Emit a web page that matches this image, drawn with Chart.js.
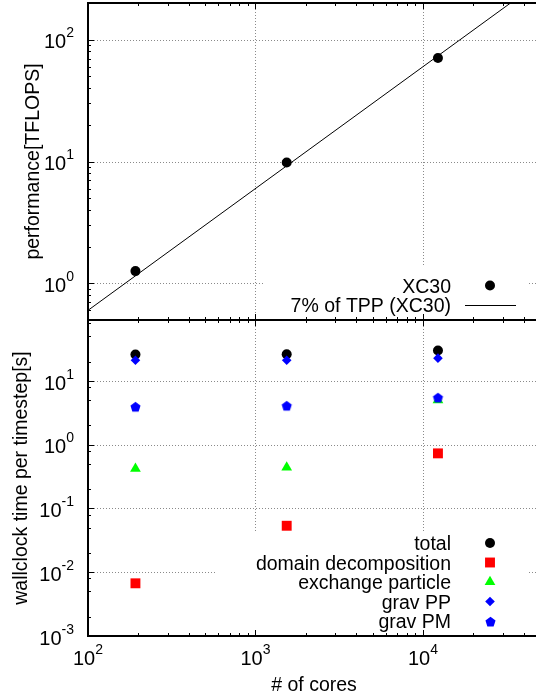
<!DOCTYPE html>
<html><head><meta charset="utf-8">
<script src="https://cdn.jsdelivr.net/npm/chart.js@4.4.1/dist/chart.umd.min.js"></script>
<style>
html,body{margin:0;padding:0;background:#fff;overflow:hidden;width:536px;height:697px;}
#wrap{position:relative;width:536px;height:697px;overflow:hidden;background:#fff;}
canvas{position:absolute;left:0;}
</style></head><body>
<div id="wrap">
<canvas id="cTop" width="536" height="324" style="top:0px;width:536px;height:324px"></canvas>
<canvas id="cBot" width="536" height="381" style="top:316px;width:536px;height:381px"></canvas>
</div>
<script>
// ---------- data ----------
const cores = [192, 1536, 12288];
const perfXC30 = [1.26, 9.8, 70.7];
const tppCores = [100, 50000];
const tppTflops = [0.6, 300];
const timeTotal = [25.9, 26.2, 29.9];
const timeDomain = [0.0067, 0.0535, 0.73];
const timeExchange = [0.42, 0.44, 5.0];
const timeGravPP = [21.0, 21.0, 22.7];
const timeGravPM = [3.95, 4.1, 5.5];
const xTickExps = [2, 3, 4];
const perfTickExps = [0, 1, 2];
const timeTickExps = [-3, -2, -1, 0, 1];
const xMinorMult = [2, 3, 4, 5, 6, 7, 8, 9];
const perfMinorMult = [2, 3, 4, 5, 6, 7, 8, 9];
const timeMinorMult = [2, 5, 8];
const xTitle = '# of cores';
const perfTitle = 'performance[TFLOPS]';
const timeTitle = 'wallclock time per timestep[s]';

// ---------- helpers ----------
const FONT = '"Liberation Sans", Arial, Helvetica, sans-serif';
const f = px => px + 'px ' + FONT;
const TXT = 19.5;

function makePentagon(r, color){
  const s = Math.ceil(2*r + 2);
  const c = document.createElement('canvas'); c.width = s; c.height = s;
  const g = c.getContext('2d'); g.fillStyle = color; g.beginPath();
  for (let i = 0; i < 5; i++){
    const a = -Math.PI/2 + i*2*Math.PI/5;
    const px = s/2 + r*Math.cos(a), py = s/2 + 0.6 + r*Math.sin(a);
    i ? g.lineTo(px, py) : g.moveTo(px, py);
  }
  g.closePath(); g.fill();
  return c;
}
const pentagon = makePentagon(5.3, '#0000ff');

function drawMarker(ctx, style, r, color, x, y){
  ctx.fillStyle = color;
  if (style instanceof HTMLCanvasElement){ ctx.drawImage(style, Math.round(x - style.width/2), Math.round(y - style.height/2)); return; }
  ctx.beginPath();
  if (style === 'circle') ctx.arc(x, y, r, 0, 2*Math.PI);
  else if (style === 'rect'){ const h = r*Math.SQRT1_2; ctx.rect(x-h, y-h, 2*h, 2*h); }
  else if (style === 'triangle'){ ctx.moveTo(x, y-r); ctx.lineTo(x+r*0.866, y+r*0.5); ctx.lineTo(x-r*0.866, y+r*0.5); ctx.closePath(); }
  else if (style === 'rectRot'){ ctx.moveTo(x-r, y); ctx.lineTo(x, y-r); ctx.lineTo(x+r, y); ctx.lineTo(x, y+r); ctx.closePath(); }
  ctx.fill();
}

function drawPow(ctx, exp, x, y, align){
  const base = '10', sup = String(exp);
  ctx.font = f(20); const wb = ctx.measureText(base).width;
  ctx.font = f(14); const ws = ctx.measureText(sup).width;
  const total = wb + ws;
  const x0 = align === 'right' ? x - total : x - total/2;
  ctx.textAlign = 'left'; ctx.textBaseline = 'alphabetic'; ctx.fillStyle = '#000';
  ctx.font = f(20); ctx.fillText(base, x0, y);
  ctx.font = f(14); ctx.fillText(sup, x0 + wb, y - 11);
}

function logValues(min, max, mults){
  const out = [];
  for (let d = Math.floor(Math.log10(min)) - 1; d <= Math.ceil(Math.log10(max)); d++){
    mults.forEach(m => { const v = m*Math.pow(10, d); if (v > min && v < max) out.push(v); });
  }
  return out;
}

// the reference picture is cropped at its right edge, so the plot frame's right side lies outside it
function makePlugin(cfg){
  return {
    id: 'gnuframe',
    beforeDatasetsDraw(chart){
      const {ctx, chartArea: a, scales: {x, y}} = chart;
      ctx.save();
      ctx.strokeStyle = '#8a8a8a'; ctx.lineWidth = 1; ctx.setLineDash([1, 2]);
      ctx.beginPath();
      xTickExps.forEach(e => {
        const v = Math.pow(10, e); if (v <= x.min || v >= x.max) return;
        const px = Math.round(x.getPixelForValue(v)) + 0.5;
        ctx.moveTo(px, a.top); ctx.lineTo(px, a.bottom);
      });
      cfg.yExps.forEach(e => {
        const v = Math.pow(10, e); if (v <= y.min || v >= y.max) return;
        const py = Math.round(y.getPixelForValue(v)) + 0.5;
        ctx.moveTo(a.left, py); ctx.lineTo(a.right, py);
      });
      ctx.stroke(); ctx.setLineDash([]);
      // opaque legend box
      const L = cfg.legend;
      const n = chart.data.datasets.length;
      const textRight = a.right - L.textFromRight;
      const firstRow = a.bottom - L.lastRowOffset - (n-1)*L.step;
      const maxChars = Math.max(...chart.data.datasets.map(d => d.label.length));
      const boxLeft = textRight - maxChars*11.75;
      ctx.fillStyle = '#fff';
      ctx.fillRect(boxLeft, firstRow - L.boxPadTop, (a.right - 9) - boxLeft, a.bottom - (firstRow - L.boxPadTop));
      ctx.restore();
    },
    afterDatasetsDraw(chart){
      const {ctx, chartArea: a, scales: {x, y}} = chart;
      ctx.save();
      // ticks (inward, gnuplot style)
      ctx.strokeStyle = '#000'; ctx.lineWidth = 1; ctx.beginPath();
      const xt = (v, len) => { const px = Math.round(x.getPixelForValue(v)) + 0.5;
        ctx.moveTo(px, a.top); ctx.lineTo(px, a.top + len); ctx.moveTo(px, a.bottom); ctx.lineTo(px, a.bottom - len); };
      const yt = (v, len) => { const py = Math.round(y.getPixelForValue(v)) + 0.5;
        ctx.moveTo(a.left, py); ctx.lineTo(a.left + len, py); };
      logValues(x.min, x.max, xMinorMult).forEach(v => xt(v, 3));
      xTickExps.forEach(e => xt(Math.pow(10, e), 6));
      logValues(y.min, y.max, cfg.yMinor).forEach(v => yt(v, 3));
      cfg.yExps.forEach(e => yt(Math.pow(10, e), 6));
      ctx.stroke();
      // frame (left, top, bottom)
      ctx.lineWidth = 2; ctx.beginPath();
      ctx.moveTo(a.right + 2, a.top); ctx.lineTo(a.left, a.top); ctx.lineTo(a.left, a.bottom); ctx.lineTo(a.right + 2, a.bottom);
      ctx.stroke();
      // y tick labels
      cfg.yExps.forEach(e => {
        const py = y.getPixelForValue(Math.pow(10, e));
        drawPow(ctx, e, a.left - 14, py + 8.8, 'right');
      });
      // x tick labels
      if (cfg.xLabels){
        xTickExps.forEach(e => {
          const px = x.getPixelForValue(Math.pow(10, e));
          drawPow(ctx, e, px, a.bottom + 29, 'center');
        });
        ctx.font = f(TXT); ctx.textAlign = 'center'; ctx.textBaseline = 'middle'; ctx.fillStyle = '#000';
        ctx.fillText(xTitle, cfg.xTitleX, a.bottom + 50);
      }
      // y title
      ctx.save();
      ctx.translate(cfg.yTitleX, (a.top + a.bottom)/2);
      ctx.rotate(-Math.PI/2);
      ctx.font = f(TXT); ctx.textAlign = 'center'; ctx.textBaseline = 'middle'; ctx.fillStyle = '#000';
      ctx.fillText(cfg.yTitle, 0, 0);
      ctx.restore();
      // legend
      const L = cfg.legend;
      const ds = chart.data.datasets;
      const textRight = a.right - L.textFromRight;
      const firstRow = a.bottom - L.lastRowOffset - (ds.length-1)*L.step;
      ds.forEach((d, i) => {
        const ry = firstRow + i*L.step;
        ctx.font = f(TXT); ctx.textAlign = 'right'; ctx.textBaseline = 'alphabetic'; ctx.fillStyle = '#000';
        ctx.fillText(d.label, textRight, ry + 7);
        if (d.showLine){
          ctx.strokeStyle = d.borderColor; ctx.lineWidth = 1; ctx.beginPath();
          ctx.moveTo(a.right - 71, Math.round(ry) + 0.5); ctx.lineTo(a.right - 20, Math.round(ry) + 0.5); ctx.stroke();
        } else {
          drawMarker(ctx, d.pointStyle, d.pointRadius, d.backgroundColor, a.right - 46, ry);
        }
      });
      ctx.restore();
    }
  };
}

const pts = (xs, ys) => xs.map((v, i) => ({x: v, y: ys[i]}));
function pointSet(label, ys, style, r, color, order){
  return {label, data: pts(cores, ys), pointStyle: style, pointRadius: r, pointHoverRadius: r,
    backgroundColor: color, borderColor: color, pointBorderWidth: 0, showLine: false, order};
}

const X_MIN = 100, X_MAX = 47300; // visible part of the 10^2 .. 5x10^4 axis
const baseOpts = (ymin, ymax, pad) => ({
  responsive: false, maintainAspectRatio: false, animation: false, devicePixelRatio: 1, events: [],
  layout: {padding: pad, autoPadding: false},
  plugins: {legend: {display: false}, tooltip: {enabled: false}, title: {display: false}},
  scales: {
    x: {type: 'logarithmic', min: X_MIN, max: X_MAX, display: false},
    y: {type: 'logarithmic', min: ymin, max: ymax, display: false}
  }
});

new Chart(document.getElementById('cTop'), {
  type: 'scatter',
  data: {datasets: [
    pointSet('XC30', perfXC30, 'circle', 5, '#000000', 2),
    {label: '7% of TPP (XC30)', data: pts(tppCores, tppTflops), showLine: true, borderColor: '#000000',
      backgroundColor: '#000000', borderWidth: 1, pointRadius: 0, pointHoverRadius: 0, order: 1}
  ]},
  options: baseOpts(0.5, 200, {left: 88, top: 3, right: 0, bottom: 4}),
  plugins: [makePlugin({yExps: perfTickExps, yMinor: perfMinorMult, yTitle: perfTitle, yTitleX: 34, xLabels: false,
    legend: {textFromRight: 85, step: 19.5, lastRowOffset: 15, boxPadTop: 18.5}})]
});

new Chart(document.getElementById('cBot'), {
  type: 'scatter',
  data: {datasets: [
    pointSet('total', timeTotal, 'circle', 5, '#000000', 5),
    pointSet('domain decomposition', timeDomain, 'rect', 7, '#ff0000', 4),
    pointSet('exchange particle', timeExchange, 'triangle', 6.2, '#00ff00', 3),
    pointSet('grav PP', timeGravPP, 'rectRot', 4.8, '#0000ff', 2),
    pointSet('grav PM', timeGravPM, pentagon, 5.3, '#0000ff', 1)
  ]},
  options: baseOpts(0.001, 90, {left: 88, top: 4, right: 0, bottom: 61}),
  plugins: [makePlugin({yExps: timeTickExps, yMinor: timeMinorMult, yTitle: timeTitle, yTitleX: 22, xLabels: true, xTitleX: 314,
    legend: {textFromRight: 85, step: 19.5, lastRowOffset: 15, boxPadTop: 10.5}})]
});
</script>
</body></html>
